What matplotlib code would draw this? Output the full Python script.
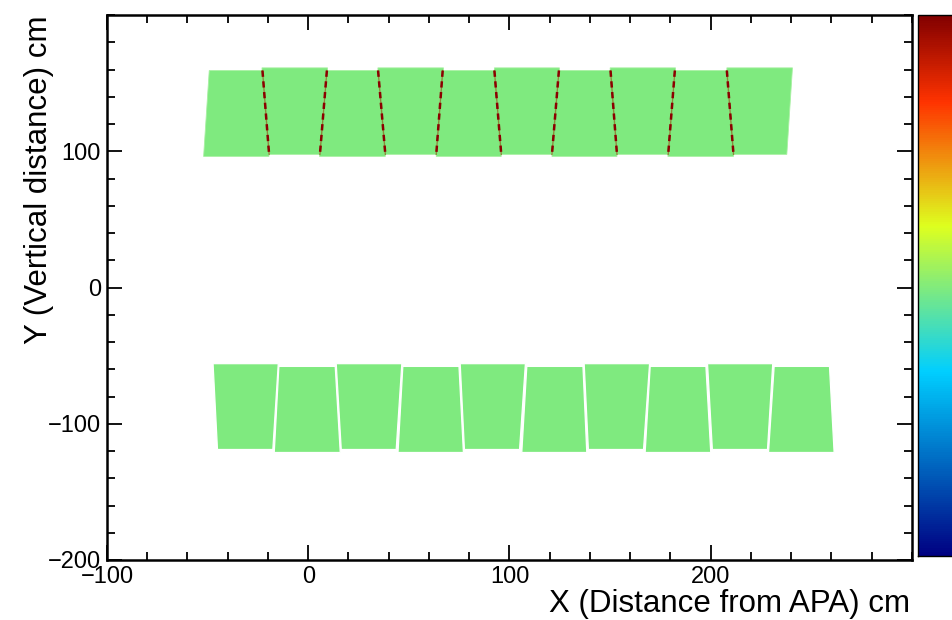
import numpy as np
import matplotlib
matplotlib.use('Agg')
import matplotlib.pyplot as plt
from matplotlib.patches import Polygon
from matplotlib.ticker import MultipleLocator
from matplotlib.colors import LinearSegmentedColormap, Normalize
import matplotlib as mpl

plt.rcParams['font.family'] = ['Liberation Sans', 'DejaVu Sans']

# upper row of modules (x corners in cm, y in cm)
up_top_l = [-49.2, -23.0, 8.9, 34.6, 66.4, 92.5, 124.3, 150.0, 181.8, 208.0]
up_top_r = [-22.5, 9.6, 34.8, 67.2, 92.5, 124.8, 150.4, 182.5, 208.0, 240.6]
up_bot_l = [-52.0, -19.4, 5.6, 38.3, 63.6, 95.9, 121.1, 153.4, 178.7, 211.3]
up_bot_r = [-19.5, 6.0, 38.3, 63.6, 95.9, 121.1, 153.4, 179.0, 211.3, 237.8]
up_top_y = [159.2, 161.2, 159.2, 161.2, 159.2, 161.2, 159.2, 161.2, 159.2, 161.2]
up_bot_y = [96.2, 97.7, 96.2, 97.7, 96.2, 97.7, 96.2, 97.7, 96.2, 97.7]

# lower row of modules
lo_top_l = [-47.3, -14.6, 13.9, 47.0, 75.5, 108.6, 137.1, 169.9, 198.4, 231.5]
lo_top_r = [-14.9, 13.4, 46.5, 74.9, 107.9, 136.5, 169.6, 197.6, 230.8, 259.0]
lo_bot_l = [-45.1, -16.9, 16.4, 44.6, 77.6, 106.1, 139.2, 167.4, 200.8, 228.7]
lo_bot_r = [-17.6, 15.9, 43.7, 77.1, 105.0, 138.4, 166.6, 200.0, 228.2, 261.3]
lo_top_y = [-55.9, -57.9, -55.9, -57.9, -55.9, -57.9, -55.9, -57.9, -55.9, -57.9]
lo_bot_y = [-118.9, -121.1, -118.9, -121.1, -118.9, -121.1, -118.9, -121.1, -118.9, -121.1]

# cell content (same for every module) and palette axis
cell_value = 0.495
z_min, z_max = 0.0, 1.0
cbar_ticks = [0.24, 0.49, 0.745]

# ROOT style gradient palette
stops = [0.00, 0.34, 0.61, 0.84, 1.00]
red = [0.00, 0.00, 0.87, 1.00, 0.51]
green = [0.00, 0.81, 1.00, 0.20, 0.00]
blue = [0.51, 1.00, 0.12, 0.00, 0.00]
palette = LinearSegmentedColormap.from_list(
    'rootpal', [(s, (r, g, b)) for s, r, g, b in zip(stops, red, green, blue)])
norm = Normalize(z_min, z_max)
fill = palette(norm(cell_value))

fig = plt.figure(figsize=(9.53, 6.2), dpi=100)
ax = fig.add_axes([107/953, 60/620, 805/953, 545/620])

for i in range(len(up_top_l)):
    pts = [(up_bot_l[i], up_bot_y[i]), (up_bot_r[i], up_bot_y[i]),
           (up_top_r[i], up_top_y[i]), (up_top_l[i], up_top_y[i])]
    ax.add_patch(Polygon(pts, closed=True, facecolor=fill, edgecolor='#a8f0a2', lw=0.6, zorder=2))

# boundaries between neighbouring upper modules
for i in range(len(up_top_l) - 1):
    xt = 0.5 * (up_top_r[i] + up_top_l[i + 1])
    xb = 0.5 * (up_bot_r[i] + up_bot_l[i + 1])
    yt = min(up_top_y[i], up_top_y[i + 1])
    yb = max(up_bot_y[i], up_bot_y[i + 1])
    ax.plot([xt, xb], [yt, yb], color='#8a8a3a', lw=1.0, zorder=3)
    ax.plot([xt, xb], [yt, yb], color='#8b0000', lw=1.8, ls=(0, (2.5, 1.8)), zorder=4)

for i in range(len(lo_top_l)):
    pts = [(lo_bot_l[i], lo_bot_y[i]), (lo_bot_r[i], lo_bot_y[i]),
           (lo_top_r[i], lo_top_y[i]), (lo_top_l[i], lo_top_y[i])]
    ax.add_patch(Polygon(pts, closed=True, facecolor=fill, edgecolor='white', lw=0.9, zorder=2))

ax.set_xlim(-100, 300)
ax.set_ylim(-200, 200)
ax.set_xticks([-100, 0, 100, 200])
ax.set_yticks([-200, -100, 0, 100])
ax.xaxis.set_minor_locator(MultipleLocator(20))
ax.yaxis.set_minor_locator(MultipleLocator(20))
ax.tick_params(which='both', direction='in', top=True, right=True, width=1.3, colors='black')
ax.tick_params(axis='x', which='major', length=11, pad=4, labelsize=17)
ax.tick_params(axis='x', which='minor', length=5.5)
ax.tick_params(axis='y', which='major', length=11, pad=4.3, labelsize=17)
ax.tick_params(axis='y', which='minor', length=5.5)
for s in ax.spines.values():
    s.set_linewidth(1.8)

ax.set_xlabel('X (Distance from APA) cm', fontsize=22.5, loc='right')
ax.xaxis.label.set_va('baseline')
ax.xaxis.label.set_ha('right')
ax.xaxis.set_label_coords(803/805, -52/545)

ax.set_ylabel('Y (Vertical distance) cm', fontsize=22.5, loc='top')
ax.yaxis.label.set_va('center')
ax.yaxis.label.set_ha('right')
ax.yaxis.set_label_coords(-68/805, 1.0)

# colour palette on the right, partly outside the canvas
cax = fig.add_axes([918/953, 64/620, 45/953, 541/620])
sm = mpl.cm.ScalarMappable(norm=norm, cmap=palette)
cb = fig.colorbar(sm, cax=cax, ticks=cbar_ticks)
cb.outline.set_linewidth(1.0)
cax.tick_params(direction='in', length=5, width=1.2, labelright=False)

fig.savefig('out.png', dpi=100)
